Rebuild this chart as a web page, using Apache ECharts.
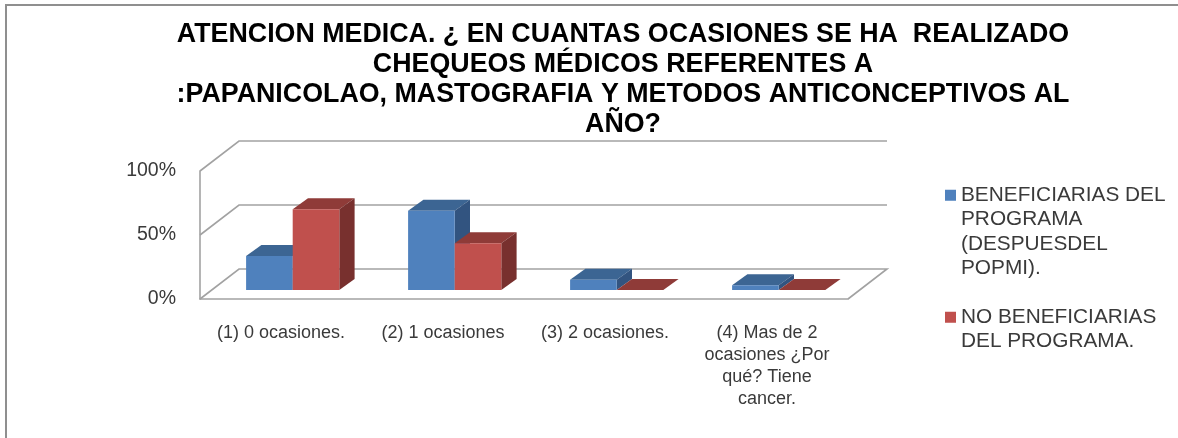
<!DOCTYPE html>
<html>
<head>
<meta charset="utf-8">
<style>html,body{margin:0;padding:0;background:#fff}#c{width:1178px;height:438px}</style>
<script src="https://cdn.jsdelivr.net/npm/echarts@6/dist/echarts.min.js"></script>
</head>
<body>
<div id="c"></div>
<script>
const titleText = "ATENCION MEDICA. ¿ EN CUANTAS OCASIONES SE HA  REALIZADO\nCHEQUEOS MÉDICOS REFERENTES A\n:PAPANICOLAO, MASTOGRAFIA Y METODOS ANTICONCEPTIVOS AL\nAÑO?";
const categories = ["(1) 0 ocasiones.", "(2) 1 ocasiones", "(3) 2 ocasiones.", "(4) Mas de 2\nocasiones ¿Por\nqué? Tiene\ncancer."];
const yTicks = [0, 50, 100];
const beneficiariasName = "BENEFICIARIAS DEL PROGRAMA (DESPUESDEL POPMI).";
const noBeneficiariasName = "NO BENEFICIARIAS DEL PROGRAMA.";
const beneficiarias = [26.5, 62, 8, 3.7];
const noBeneficiarias = [63, 36.5, 0, 0];

const FONT = '"Liberation Sans", Arial, sans-serif';
const WALL_DX = 39, WALL_DY = -30;      // depth of the floor
const BAR_DX0 = 11.7, BAR_DY0 = -9;     // where bars start inside the floor
const BAR_DX = 15.3, BAR_DY = -11;      // depth of each bar
const BAR_W = 46.6;
const GRID_LINE = '#a2a2a2';

function wallItem(params, api) {
  const v = api.value(1);
  const cs = params.coordSys;
  const y = api.coord([0, v])[1];
  const x0 = cs.x, x1 = cs.x + cs.width;
  const style = { stroke: GRID_LINE, lineWidth: 1.6, fill: null };
  const pts = [[x0, y], [x0 + WALL_DX, y + WALL_DY], [x1 + WALL_DX, y + WALL_DY]];
  if (v === 0) pts.push([x1, y]);
  return { type: 'polyline', shape: { points: pts }, style };
}

function barRenderer(side, front, top, right) {
  return function (params, api) {
    const idx = api.value(0);
    const base = api.coord([idx, 0]);
    const peak = api.coord([idx, api.value(1)]);
    const xl = base[0] + BAR_DX0 + (side < 0 ? -BAR_W : 0);
    const xr = xl + BAR_W;
    const yb = base[1] + BAR_DY0;
    const yt = peak[1] + BAR_DY0;
    const kids = [
      { type: 'polygon', shape: { points: [[xl, yt], [xr, yt], [xr + BAR_DX, yt + BAR_DY], [xl + BAR_DX, yt + BAR_DY]] }, style: { fill: top } },
      { type: 'polygon', shape: { points: [[xr, yt], [xr + BAR_DX, yt + BAR_DY], [xr + BAR_DX, yb + BAR_DY], [xr, yb]] }, style: { fill: right } }
    ];
    if (yb - yt > 0.2) kids.push({ type: 'rect', shape: { x: xl, y: yt, width: BAR_W, height: yb - yt }, style: { fill: front } });
    return { type: 'group', children: kids };
  };
}

function legendFor(name, top, heightLines, label) {
  const h = heightLines * 24.4;
  return {
    data: [name], orient: 'vertical', left: 945, top, padding: 0,
    itemWidth: 11, itemHeight: h,
    icon: 'path://M0 0L11 0L11 0ZM0 6.7L11 6.7L11 17.7L0 17.7ZM0 ' + h + 'L11 ' + h + 'L11 ' + h + 'Z',
    formatter: () => label,
    textStyle: { fontFamily: FONT, fontSize: 20.8, color: '#3a3a3a', lineHeight: 24.4 }
  };
}

const chart = echarts.init(document.getElementById('c'), null, { renderer: 'canvas' });
chart.setOption({
  animation: false,
  backgroundColor: '#fff',
  title: {
    text: titleText, left: 618, top: 15, textAlign: 'center',
    textStyle: { fontFamily: FONT, fontSize: 26.8, fontWeight: 'bold', color: '#000', lineHeight: 30 }
  },
  legend: [
    legendFor(beneficiariasName, 183, 4, "BENEFICIARIAS DEL\nPROGRAMA\n(DESPUESDEL\nPOPMI)."),
    legendFor(noBeneficiariasName, 305, 2, "NO BENEFICIARIAS\nDEL PROGRAMA.")
  ],
  grid: { left: 200, top: 171, width: 648, height: 128 },
  xAxis: {
    type: 'category', data: categories, boundaryGap: true,
    axisTick: { show: false },
    axisLine: { lineStyle: { color: GRID_LINE, width: 1.6 } },
    axisLabel: { interval: 0, margin: 23, fontFamily: FONT, fontSize: 18, lineHeight: 22, color: '#3a3a3a', verticalAlign: 'top' }
  },
  yAxis: {
    type: 'value', min: 0, max: 100, interval: 50,
    splitLine: { show: false },
    axisTick: { show: false },
    axisLine: { show: true, lineStyle: { color: GRID_LINE, width: 1.6 } },
    axisLabel: { margin: 24, padding: [4, 0, 0, 0], formatter: '{value}%', fontFamily: FONT, fontSize: 19.5, color: '#3a3a3a' }
  },
  graphic: [
    { type: 'rect', silent: true, shape: { x: 5, y: 5, width: 2, height: 433 }, style: { fill: '#8f8f8f' } },
    { type: 'rect', silent: true, shape: { x: 5, y: 4, width: 1173, height: 2 }, style: { fill: '#8f8f8f' } }
  ],
  series: [
    { type: 'custom', name: 'walls', silent: true, renderItem: wallItem, data: yTicks.map(v => [0, v]), z: 1 },
    { type: 'custom', name: beneficiariasName, itemStyle: { color: '#4F81BD' }, z: 2,
      renderItem: barRenderer(-1, '#4F81BD', '#3C6593', '#325480'),
      data: beneficiarias.map((v, i) => [i, v]) },
    { type: 'custom', name: noBeneficiariasName, itemStyle: { color: '#C0504D' }, z: 3,
      renderItem: barRenderer(1, '#C0504D', '#8F3B38', '#78302E'),
      data: noBeneficiarias.map((v, i) => [i, v]) }
  ]
});
</script>
</body>
</html>
